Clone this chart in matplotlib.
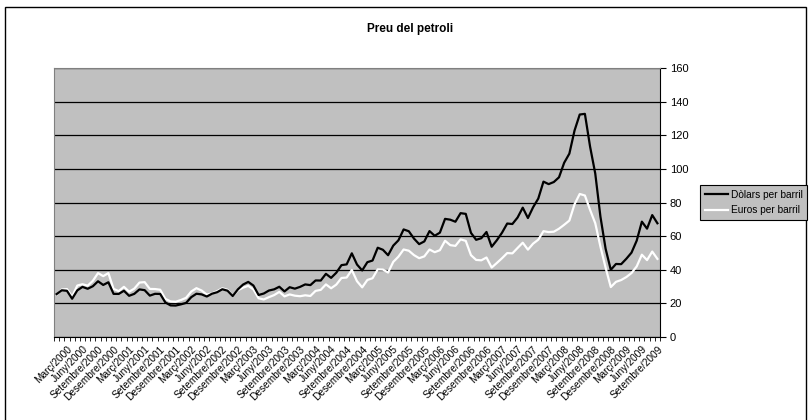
"""
Preu del petroli - dolars i euros per barril (mensual 2000-2009)
"""

import matplotlib.pyplot as plt
import matplotlib.patches as patches
import numpy as np

plt.rcParams['font.family'] = ['Liberation Sans', 'DejaVu Sans']

years = list(range(2000, 2010))
quarter_months = ['Març', 'Juny', 'Setembre', 'Desembre']

# Dolars per barril, gener 2000 - setembre 2009
dolars = [
    25.51, 27.78, 27.49, 22.76, 27.74, 29.80, 28.68, 30.20, 33.14, 30.96, 32.55, 25.66,
    25.62, 27.50, 24.50, 25.66, 28.31, 27.85, 24.61, 25.68, 25.62, 20.54, 18.80, 18.71,
    19.42, 20.28, 23.70, 25.73, 25.35, 24.08, 25.74, 26.65, 28.40, 27.54, 24.34, 28.33,
    31.18, 32.77, 30.61, 25.00, 25.86, 27.65, 28.35, 29.89, 27.11, 29.61, 28.75, 29.81,
    31.28, 30.86, 33.63, 33.59, 37.57, 35.18, 38.22, 42.74, 43.20, 49.78, 43.11, 39.60,
    44.51, 45.48, 53.10, 51.88, 48.65, 54.35, 57.52, 63.98, 62.91, 58.54, 55.24, 56.86,
    62.99, 60.21, 62.06, 70.26, 69.78, 68.56, 73.67, 73.23, 61.96, 57.81, 58.76, 62.47,
    53.68, 57.56, 62.05, 67.49, 67.21, 71.05, 76.93, 70.76, 77.17, 82.34, 92.41, 90.93,
    92.18, 94.99, 103.64, 109.07, 122.80, 132.32, 132.72, 113.24, 97.23, 71.58, 52.45, 39.95,
    43.44, 43.32, 46.54, 50.18, 57.30, 68.61, 64.44, 72.51, 67.65,
]

# Euros per barril
euros = [
    25.16, 28.25, 28.51, 24.03, 30.62, 31.39, 30.52, 33.40, 38.00, 36.20, 38.01, 28.60,
    27.30, 29.84, 26.94, 28.77, 32.38, 32.64, 28.59, 28.52, 28.12, 22.67, 21.16, 20.97,
    21.99, 23.31, 27.06, 29.05, 27.64, 25.20, 25.94, 27.26, 28.96, 28.07, 24.31, 27.82,
    29.35, 30.42, 28.32, 23.05, 22.33, 23.71, 24.93, 26.83, 24.16, 25.32, 24.57, 24.26,
    24.80, 24.40, 27.43, 28.03, 31.29, 28.98, 31.16, 35.10, 35.36, 39.86, 33.18, 29.53,
    33.93, 34.95, 40.22, 40.10, 38.33, 44.68, 47.79, 52.05, 51.33, 48.72, 46.87, 47.96,
    52.04, 50.44, 51.63, 57.26, 54.64, 54.20, 58.08, 57.16, 48.68, 45.84, 45.62, 47.28,
    41.30, 44.03, 46.86, 49.93, 49.74, 52.95, 56.09, 51.95, 55.53, 57.88, 62.93, 62.41,
    62.63, 64.41, 66.75, 69.25, 78.94, 85.08, 84.16, 75.62, 67.66, 53.73, 41.20, 29.70,
    32.81, 33.88, 35.66, 38.04, 41.98, 48.95, 45.74, 50.82, 46.46,
]

n = len(dolars)
x = np.arange(1, n + 1)

# quarterly labels, on categories 3, 6, 9, ...
label_pos = []
label_txt = []
for i, y in enumerate(years):
    for j, m in enumerate(quarter_months):
        pos = i * 12 + (j + 1) * 3
        if pos <= n:
            label_pos.append(pos)
            label_txt.append(f'{m}/{y}')

W, H = 809, 420
fig = plt.figure(figsize=(W / 100, H / 100), dpi=100)

# outer chart border
fig.patches.append(patches.Rectangle((5 / W, -0.01), (806 - 5) / W, 1 - 7 / H + 0.01,
                                     transform=fig.transFigure, fill=False,
                                     edgecolor='black', linewidth=1.0))

ax = fig.add_axes([54 / W, 1 - 337 / H, 606 / W, 269 / H])
ax.set_facecolor('#c0c0c0')

l1, = ax.plot(x, dolars, color='black', linewidth=1.6, label='Dòlars per barril', zorder=3)
l2, = ax.plot(x, euros, color='white', linewidth=1.6, label='Euros per barril', zorder=2)

ax.set_xlim(0.5, n + 0.5)
ax.set_ylim(0, 160)

# y axis on the right
ax.yaxis.tick_right()
ax.set_yticks(range(0, 161, 20))
ax.tick_params(axis='y', labelsize=8, length=4, width=0.8, pad=3, direction='out')
ax.grid(axis='y', color='black', linewidth=0.9, zorder=1)

ax.set_xticks(label_pos)
ax.set_xticklabels(label_txt, rotation=45, ha='right', rotation_mode='anchor', fontsize=7.3)
ax.set_xticks(np.arange(0.5, n + 1, 1), minor=True)
ax.tick_params(axis='x', which='major', length=0, pad=5)
ax.tick_params(axis='x', which='minor', length=3, width=0.6, direction='out')

for side in ['left', 'top']:
    ax.spines[side].set_color('#808080')
    ax.spines[side].set_linewidth(0.8)
ax.spines['right'].set_color('black')
ax.spines['bottom'].set_color('black')

fig.text(410 / W, 1 - 29 / H, 'Preu del petroli', ha='center', va='center',
         fontsize=8.5, fontweight='bold')

leg = fig.legend(handles=[l1, l2], loc='upper left',
                 bbox_to_anchor=(700 / W, 1 - 185 / H), bbox_transform=fig.transFigure,
                 fontsize=7.3, frameon=True, fancybox=False, framealpha=1,
                 facecolor='#c0c0c0', edgecolor='black', handlelength=2.3,
                 handletextpad=0.3, borderpad=0.45, labelspacing=0.55, borderaxespad=0)
leg.get_frame().set_linewidth(0.8)

plt.savefig('out.png', dpi=100)
plt.close()
